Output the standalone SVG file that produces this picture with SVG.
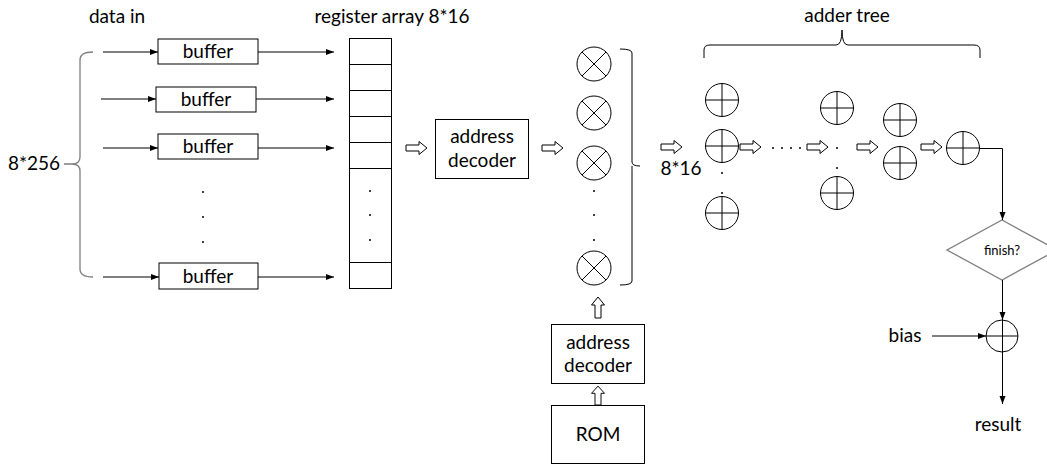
<svg xmlns="http://www.w3.org/2000/svg" width="1047" height="464" viewBox="0 0 1047 464">
  <style>
    text { font-family: Lato, "Open Sans", "Liberation Sans", sans-serif; font-size: 19px; fill: #000; }
    .box { fill: #fff; stroke: #000; stroke-width: 1; }
    .ln { fill: none; stroke: #000; stroke-width: 1; }
    .gray { fill: none; stroke: #7f7f7f; stroke-width: 1.3; }
    .hollow { fill: #fff; stroke: #000; stroke-width: 1; }
    .dot { fill: #000; }
    .c { text-anchor: middle; }
  </style>
  <defs>
    <marker id="ah" viewBox="0 0 8 8" refX="8" refY="4" markerWidth="8" markerHeight="8" markerUnits="userSpaceOnUse" orient="auto">
      <path d="M0,1 L8,4 L0,7 Z" fill="#000"/>
    </marker>
    <!-- hollow block arrow pointing right, tip at origin+21 -->
    <path id="harrow" d="M0,-3 L13,-3 L13,-6.5 L21,0 L13,6.5 L13,3 L0,3 Z"/>
    <g id="mul">
      <circle r="17" class="ln"/>
      <path d="M-12,-12 L12,12 M12,-12 L-12,12" class="ln"/>
    </g>
    <g id="add">
      <circle r="16.5" class="ln"/>
      <path d="M-16.5,0 H16.5 M0,-16.5 V16.5" class="ln"/>
    </g>
  </defs>

  <!-- labels -->
  <text x="117" y="23" class="c">data in</text>
  <text x="392" y="23" class="c">register array 8*16</text>
  <text x="34" y="170" class="c">8*256</text>
  <text x="847" y="22" class="c">adder tree</text>
  <text x="681" y="175" class="c">8*16</text>

  <!-- input brace -->
  <path class="gray" d="M93,52 Q80,52 80,60 V157 Q80,164 72,164 H64 M72,164 Q80,164 80,171 V269 Q80,277 93,277"/>

  <!-- buffers -->
  <g id="buffer1"><rect class="box" x="158" y="39" width="100" height="25"/><text x="208" y="58" class="c">buffer</text></g>
  <g id="buffer2"><rect class="box" x="156" y="87" width="100" height="25"/><text x="206" y="106" class="c">buffer</text></g>
  <g id="buffer3"><rect class="box" x="158" y="134" width="100" height="25"/><text x="208" y="153" class="c">buffer</text></g>
  <g id="buffer4"><rect class="box" x="159" y="263" width="99" height="26"/><text x="208" y="283" class="c">buffer</text></g>
  <circle class="dot" cx="203" cy="192" r="1"/>
  <circle class="dot" cx="203" cy="217" r="1"/>
  <circle class="dot" cx="203" cy="242" r="1"/>

  <!-- register array -->
  <g id="register-array">
    <rect class="box" x="349.5" y="38.5" width="42" height="250"/>
    <path class="ln" d="M349.5,64.5 H391.5 M349.5,90.5 H391.5 M349.5,116.5 H391.5 M349.5,142.5 H391.5 M349.5,168.5 H391.5 M349.5,262.5 H391.5"/>
    <circle class="dot" cx="370" cy="191" r="1"/>
    <circle class="dot" cx="370" cy="215" r="1"/>
    <circle class="dot" cx="370" cy="240" r="1"/>
  </g>

  <!-- address decoder (data side) -->
  <g id="decoder1">
    <rect class="box" x="435.5" y="119.5" width="93" height="59"/>
    <text x="482" y="143" class="c">address</text>
    <text x="482" y="167" class="c">decoder</text>
  </g>

  <!-- multipliers -->
  <g id="multipliers">
    <use href="#mul" x="594" y="64"/>
    <use href="#mul" x="594" y="113"/>
    <use href="#mul" x="594" y="163"/>
    <use href="#mul" x="594" y="268"/>
    <circle class="dot" cx="594" cy="191" r="1"/>
    <circle class="dot" cx="594" cy="215" r="1"/>
    <circle class="dot" cx="594" cy="240" r="1"/>
  </g>
  <!-- product bracket -->
  <path class="ln" d="M620,49 Q632,49 632,53 V162 Q632,166 640,166 M632,166 Q632,170 632,172 V281 Q632,285 620,285"/>

  <!-- address decoder (weight side) and ROM -->
  <g id="decoder2">
    <rect class="box" x="551.5" y="324.5" width="93" height="59"/>
    <text x="598" y="349" class="c">address</text>
    <text x="598" y="372" class="c">decoder</text>
  </g>
  <g id="rom">
    <rect class="box" x="551.5" y="405.5" width="93" height="58"/>
    <text x="598" y="441" class="c">ROM</text>
  </g>

  <!-- adder tree -->
  <g id="adders">
    <use href="#add" x="722" y="100"/>
    <use href="#add" x="722" y="146"/>
    <use href="#add" x="722" y="213"/>
    <circle class="dot" cx="722" cy="173" r="1"/>
    <circle class="dot" cx="722" cy="193" r="1"/>
    <use href="#add" x="837" y="108"/>
    <use href="#add" x="837" y="193"/>
    <circle class="dot" cx="837" cy="148" r="1"/>
    <circle class="dot" cx="837" cy="168" r="1"/>
    <use href="#add" x="900" y="120"/>
    <use href="#add" x="900" y="163"/>
    <use href="#add" x="963" y="148"/>
    <circle class="dot" cx="773" cy="148" r="1"/>
    <circle class="dot" cx="782" cy="148" r="1"/>
    <circle class="dot" cx="791" cy="148" r="1"/>
    <circle class="dot" cx="800" cy="148" r="1"/>
  </g>
  <!-- adder tree brace -->
  <path class="ln" d="M704,58 V50 Q704,45 710,45 H836 Q842,45 842,30 Q842,45 848,45 H974 Q980,45 980,50 V58"/>

  <!-- decision -->
  <g id="finish">
    <polygon points="1002,220 1057,250 1002,280 947,250" fill="#fff" stroke="#7f7f7f" stroke-width="1.3"/>
    <text x="1002" y="255" class="c" style="font-size:13px">finish?</text>
  </g>

  <!-- bias adder -->
  <g id="bias-adder">
    <circle cx="1002" cy="336" r="16" class="ln"/>
    <path class="ln" d="M986,336 H1018"/>
  </g>
  <text x="905" y="342" class="c">bias</text>
  <text x="998" y="431" class="c">result</text>

  <!-- connectors -->
  <g id="connectors">
    <path class="ln" marker-end="url(#ah)" d="M103,52 H158"/>
    <path class="ln" marker-end="url(#ah)" d="M101,99 H156"/>
    <path class="ln" marker-end="url(#ah)" d="M103,148 H158"/>
    <path class="ln" marker-end="url(#ah)" d="M103,277 H159"/>
    <path class="ln" marker-end="url(#ah)" d="M258,52 H334"/>
    <path class="ln" marker-end="url(#ah)" d="M256,99 H334"/>
    <path class="ln" marker-end="url(#ah)" d="M258,148 H334"/>
    <path class="ln" marker-end="url(#ah)" d="M258,277 H334"/>

    <use href="#harrow" class="hollow" x="406" y="148"/>
    <use href="#harrow" class="hollow" x="542" y="148"/>
    <use href="#harrow" class="hollow" x="661" y="147"/>
    <use href="#harrow" class="hollow" x="740" y="147"/>
    <use href="#harrow" class="hollow" x="807" y="147"/>
    <use href="#harrow" class="hollow" x="857" y="147"/>
    <use href="#harrow" class="hollow" x="921" y="147"/>
    <use href="#harrow" class="hollow" transform="translate(598,318) rotate(-90)"/>
    <use href="#harrow" class="hollow" transform="translate(598,405) rotate(-90) scale(0.9,1)"/>

    <path class="ln" marker-end="url(#ah)" d="M979.5,148.5 H1002.5 V220"/>
    <path class="ln" marker-end="url(#ah)" d="M1002.5,280 V320"/>
    <path class="ln" marker-end="url(#ah)" d="M1002.5,320 V404"/>
    <path class="ln" marker-end="url(#ah)" d="M932,336 H986"/>
  </g>
</svg>
